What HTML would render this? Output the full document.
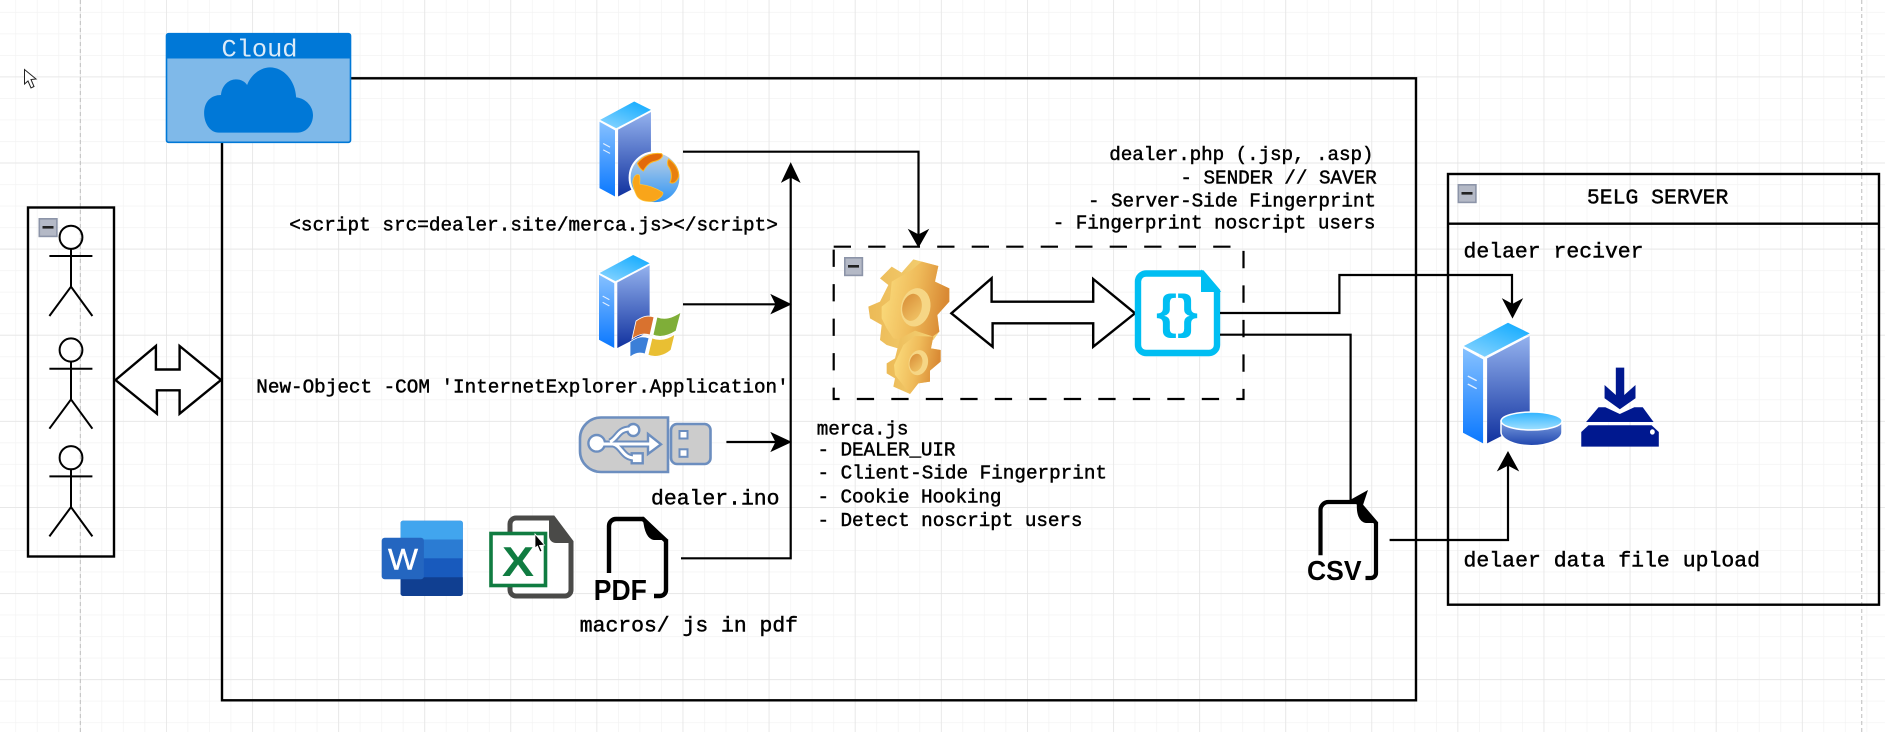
<!DOCTYPE html>
<html><head><meta charset="utf-8"><style>
html,body{margin:0;padding:0;background:#fff;width:1885px;height:732px;overflow:hidden}
svg{display:block}
.m{font-family:"Liberation Mono",monospace;font-size:19.3px;fill:#000;stroke:#000;stroke-width:.45px;white-space:pre}
.l{font-size:21.4px}
.b{fill:none;stroke:#000;stroke-width:2.4}
.t{fill:none;stroke:#000;stroke-width:2.2}
</style></head><body>
<svg width="1885" height="732" viewBox="0 0 1885 732" xmlns="http://www.w3.org/2000/svg">
<defs>
<pattern id="gm" x="79.9" y="76.5" width="21.525" height="21.525" patternUnits="userSpaceOnUse"><path d="M0 0H21.525M0 0V21.525" fill="none" stroke="#f3f3f3" stroke-width="1.4"/></pattern>
<pattern id="gM" x="79.9" y="76.5" width="86.1" height="86.1" patternUnits="userSpaceOnUse"><path d="M0 0H86.1M0 0V86.1" fill="none" stroke="#e3e3e3" stroke-width="1.4"/></pattern>
<linearGradient id="st" x1="0" y1="1" x2="0.7" y2="0"><stop offset="0" stop-color="#8ed6ff"/><stop offset="1" stop-color="#1aaeff"/></linearGradient>
<linearGradient id="sl" x1="0" y1="0" x2="0" y2="1"><stop offset="0" stop-color="#86c1ff"/><stop offset="1" stop-color="#0a78ff"/></linearGradient>
<linearGradient id="sr" x1="0" y1="0" x2="0" y2="1"><stop offset="0" stop-color="#94b2ee"/><stop offset="1" stop-color="#11329f"/></linearGradient>
<linearGradient id="dt" x1="0" y1="0" x2="0" y2="1"><stop offset="0" stop-color="#2fb3ff"/><stop offset="1" stop-color="#a0e0ff"/></linearGradient>
<linearGradient id="dr" x1="0" y1="0" x2="0" y2="1"><stop offset="0" stop-color="#7b9de0"/><stop offset="1" stop-color="#1f45ad"/></linearGradient>
<linearGradient id="g1" x1="0" y1="0" x2="1" y2="0.2"><stop offset="0" stop-color="#fcdf80"/><stop offset=".55" stop-color="#efbb5a"/><stop offset="1" stop-color="#d98a34"/></linearGradient>
<linearGradient id="g2" x1="0" y1="0" x2="1" y2="0"><stop offset="0" stop-color="#ecba56"/><stop offset="1" stop-color="#f5d57a"/></linearGradient>
<linearGradient id="gh" x1="0" y1="0" x2="1" y2="1"><stop offset="0" stop-color="#d78c36"/><stop offset="1" stop-color="#f3c869"/></linearGradient>
<linearGradient id="gl" x1="0" y1="0" x2="0" y2="1"><stop offset="0" stop-color="#c2d3e4"/><stop offset="1" stop-color="#2d94f5"/></linearGradient>
<g id="srv">
<path d="M112 0 L166 32 L54 102 L2 70Z" fill="url(#st)"/>
<path d="M0 77 L50 110 L50 362 L0 330Z" fill="url(#sl)"/>
<path d="M60 107 L166 40 L166 297 L60 362Z" fill="url(#sr)"/>
<path d="M12 160 L34 174M12 184 L34 198" stroke="#e4f0ff" stroke-width="4"/>
</g>
<g id="minus"><rect x=".8" y=".8" width="17.6" height="17.6" fill="#b4b9c6" stroke="#8c94a8" stroke-width="1.6"/><rect x="4" y="8" width="11" height="2.6" fill="#222"/></g>
</defs>

<rect width="1885" height="732" fill="#fff"/>
<rect width="1885" height="732" fill="url(#gm)"/>
<rect width="1885" height="732" fill="url(#gM)"/>
<path d="M80.4 0V732M1861.7 0V732" stroke="#c8c8c8" stroke-width="1.2" stroke-dasharray="4 3" fill="none"/>

<!-- big frame -->
<rect x="222" y="78.3" width="1194" height="622" class="b"/>

<!-- cloud -->
<rect x="166.5" y="33.7" width="184" height="108.6" rx="2" fill="#7fb9e9" stroke="#0078d7" stroke-width="1.6"/>
<path d="M166 58.5V35.5a2 2 0 0 1 2-2H349a2 2 0 0 1 2 2V58.5Z" fill="#0078d7"/>
<text x="221.5" y="56.5" font-family="Liberation Mono,monospace" font-size="25" fill="#dcebf8" textLength="76" lengthAdjust="spacingAndGlyphs">Cloud</text>
<g transform="scale(.4018 .3333)"><path d="M545 398 C520 398 508 365 508 340 C508 305 525 285 550 285 C552 255 570 238 587 238 C600 238 610 245 615 255 C625 222 650 202 672 202 C705 202 735 240 737 292 C762 295 779 320 779 345 C779 375 762 398 740 398Z" fill="#0078d7"/></g>

<!-- cursor -->
<path d="M24.5 69.5V84L28 81L31 88L34 86.5L31 79.5L36 79Z" fill="#fff" stroke="#222" stroke-width="1"/>

<!-- actors -->
<rect x="28" y="207.5" width="86" height="349" class="b"/>
<use href="#minus" x="38.5" y="218"/>
<g fill="none" stroke="#000" stroke-width="2">
<g id="act"><ellipse cx="71" cy="237.3" rx="11.4" ry="11.6"/><path d="M71 249V286.7M49.4 256H92.4M49.4 316L71 286.7L92.4 316"/></g>
<use href="#act" y="112.7"/><use href="#act" y="220.4"/>
</g>

<!-- left double arrow -->
<path d="M115.5 380 L155.9 346 V369.5 H179.6 V346 L221 380 L179.6 413.7 V390.3 H156.9 V413.7Z" fill="#fff" stroke="#000" stroke-width="2.4"/>

<!-- servers -->
<use href="#srv" transform="translate(599.5 101.5) scale(.31 .2625)"/>
<use href="#srv" transform="translate(599 255) scale(.305 .257)"/>
<!-- globe -->
<circle cx="655" cy="177.7" r="25.4" fill="url(#gl)" stroke="#fff" stroke-width="2"/>
<g transform="translate(590 95) scale(.3333)">
<path d="M142 205C160 180 190 172 215 176C222 184 212 196 190 200C175 205 168 215 160 228C150 222 146 215 142 205Z" fill="#e2690a" stroke="#ffb820" stroke-width="3"/>
<path d="M236 192C255 205 268 225 266 245C260 262 248 268 240 262C248 245 244 225 234 212C232 205 232 198 236 192Z" fill="#e8800f" stroke="#ffb820" stroke-width="3"/>
<path d="M128 262C130 245 138 235 148 240C152 250 148 260 150 268C170 270 196 278 218 292C222 298 210 312 192 318C172 322 152 318 142 305C134 292 130 278 128 262Z" fill="#f9a51a" stroke="#ffc63a" stroke-width="2"/>
</g>
<!-- windows -->
<g stroke="#fff" stroke-width=".8">
<path d="M636 321 C643 316 648 315 654 317 L650 335 C644 333 639 334 632 339Z" fill="#d9722f"/>
<path d="M657 317 C665 320 672 318 681 312 L676 331 C668 336 660 338 653 335Z" fill="#7fae38"/>
<path d="M630 342 C638 336 643 336 649 338 L645 354 C640 352 635 353 630 357Z" fill="#3b7fd8"/>
<path d="M652 338 C660 341 668 339 675 334 L671 350 C664 356 655 358 648 355Z" fill="#e9bf33"/>
</g>

<!-- USB -->
<g stroke="#6c8ebf" stroke-width="2.6">
<path d="M668 417.5H601a21 21 0 0 0-21 21V451a21 21 0 0 0 21 21H668Z" fill="#ccc"/>
<rect x="671" y="424" width="39.5" height="40" rx="6" fill="#ccc"/>
<rect x="679.5" y="431" width="8" height="7.5" fill="#fff" stroke-width="2"/>
<rect x="679.5" y="449.3" width="8" height="7.5" fill="#fff" stroke-width="2"/>
<path d="M602 444H650M610 442C618 438 618 429 630 429M613 444C622 446 622 458 635 458" fill="none" stroke-width="7"/>
<circle cx="596.7" cy="443.3" r="8.3" fill="#fff" stroke-width="2.4"/>
<circle cx="633.3" cy="430" r="6" fill="#fff" stroke-width="2.4"/>
<rect x="631.7" y="453.3" width="11" height="10" fill="#fff" stroke-width="2.4"/>
<path d="M648 434L661 444.3L648 454Z" fill="#fff" stroke-width="2.4"/>
<path d="M602 444H650M610 442C618 438 618 429 630 429M613 444C622 446 622 458 635 458" fill="none" stroke="#fff" stroke-width="3"/>
</g>

<!-- Word -->
<rect x="400.6" y="520.7" width="62.2" height="75.3" rx="2.5" fill="#185abd"/>
<path d="M400.6 539.5V523.2a2.5 2.5 0 0 1 2.5-2.5H460.3a2.5 2.5 0 0 1 2.5 2.5V539.5Z" fill="#41a5ee"/>
<rect x="400.6" y="539.5" width="62.2" height="18.8" fill="#2b7cd3"/>
<path d="M400.6 577.2H462.8V593.5a2.5 2.5 0 0 1-2.5 2.5H403.1a2.5 2.5 0 0 1-2.5-2.5Z" fill="#103f91"/>
<rect x="381.7" y="537.7" width="42.2" height="41.6" rx="3" fill="#2466c0"/>
<text x="403" y="569.5" text-anchor="middle" font-family="Liberation Sans,sans-serif" font-size="30" fill="#fff" stroke="#fff" stroke-width=".4" textLength="30" lengthAdjust="spacingAndGlyphs">W</text>

<!-- Excel -->
<path d="M553 518H516a6 6 0 0 0-6 6V590a6 6 0 0 0 6 6H565a6 6 0 0 0 6-6V542Z" fill="#fff" stroke="#4a4a48" stroke-width="5"/>
<path d="M550 518L571 542H556a6 6 0 0 1-6-6Z" fill="#4a4a48" stroke="#4a4a48" stroke-width="2"/>
<rect x="491" y="533.5" width="54.5" height="52" fill="#fff" stroke="#107c41" stroke-width="3.6"/>
<text x="518" y="576" text-anchor="middle" font-family="Liberation Sans,sans-serif" font-weight="bold" font-size="42" fill="#107c41" textLength="32" lengthAdjust="spacingAndGlyphs">X</text>
<path d="M535 534V548L537.5 546L540 552L542 551L539.5 545.5L544.5 545Z" fill="#000" stroke="#fff" stroke-width=".8"/>

<!-- PDF -->
<path d="M609 573V526a7 7 0 0 1 7-7H643L666 541V590a6 6 0 0 1-6 6H654" fill="none" stroke="#000" stroke-width="4.4"/>
<path d="M644 519C645 530 648 538 654 539H666Z" fill="#000" stroke="#000" stroke-width="2"/>
<text x="593.8" y="600" font-family="Liberation Sans,sans-serif" font-weight="bold" font-size="29" fill="#000" textLength="53" lengthAdjust="spacingAndGlyphs">PDF</text>

<!-- merge arrows -->
<path d="M683 151.7H918.5V235" class="t"/>
<path d="M918.5 246.7L909 230L918.5 235L928 230Z" fill="#000" stroke="#000"/>
<path d="M790.7 175V558.3H681" class="t"/>
<path d="M790.7 163.3L782 181.7L790.7 177L799.5 181.7Z" fill="#000" stroke="#000"/>
<path d="M683 304.3H782" class="t"/>
<path d="M790.7 304.3L771.4 295L776 304.3L771.4 313.3Z" fill="#000" stroke="#000"/>
<path d="M726.4 442H782" class="t"/>
<path d="M790.7 442L771.4 433L776 442L771.4 451Z" fill="#000" stroke="#000"/>

<!-- dashed box -->
<rect x="833.7" y="246.7" width="409.8" height="152.3" fill="none" stroke="#000" stroke-width="2.2" stroke-dasharray="17.3 17.2"/>
<use href="#minus" x="844" y="257"/>

<!-- gear -->
<g transform="translate(850 250) scale(.3333)">
<path d="M90 85L125 50L155 68L190 28L265 48L255 95L298 115L298 155L262 195L268 245L250 270L160 300L110 285L90 270L95 225L60 205L55 170L90 155L115 105Z" fill="url(#g2)"/>
<path d="M125 95L185 60L215 35L265 48L255 95L298 115L298 155L262 195L268 245L220 280L130 265L110 235L95 205L95 170L120 150Z" fill="url(#g1)"/>
<ellipse cx="197" cy="172" rx="44" ry="58" transform="rotate(12 197 172)" fill="#f6d685"/>
<ellipse cx="186" cy="172" rx="29" ry="41" transform="rotate(12 186 172)" fill="url(#gh)"/>
<path d="M110 340L135 325L150 265L195 242L250 260L243 295L272 300L272 335L240 362L240 395L205 400L180 432L130 410L135 385L110 370Z" fill="url(#g2)"/>
<path d="M132 345L160 285L195 258L250 260L243 295L272 300L272 335L240 362L240 395L205 400L180 432L155 400L135 375Z" fill="url(#g1)"/>
<ellipse cx="205" cy="338" rx="29" ry="38" transform="rotate(12 205 338)" fill="#f6d685"/>
<ellipse cx="198" cy="338" rx="19" ry="27" transform="rotate(12 198 338)" fill="url(#gh)"/>
</g>

<!-- inner double arrow -->
<path d="M951.4 313.3 L991.6 278.3 V301.7 H1093.2 V279 L1135 313.3 L1093.2 346.7 V323.3 H992.6 V346.7Z" fill="#fff" stroke="#000" stroke-width="2.4"/>

<!-- JSON file -->
<path d="M1202 273.5H1146a8 8 0 0 0-8 8V345a8 8 0 0 0 8 8H1209a8 8 0 0 0 8-8V291Z" fill="#fff" stroke="#00bef2" stroke-width="6.4"/>
<path d="M1202 272L1219 291H1202Z" fill="#00bef2" stroke="#00bef2" stroke-width="2"/>
<text x="1177" y="328" text-anchor="middle" font-family="Liberation Sans,sans-serif" font-weight="bold" font-size="47" fill="#00bef2" textLength="42" lengthAdjust="spacingAndGlyphs">{}</text>

<!-- right connectors -->
<path d="M1220 313H1339.4V275H1512V306" class="t"/>
<path d="M1512.5 317.5L1503 299.3L1512.5 304.5L1522 299.3Z" fill="#000" stroke="#000"/>
<path d="M1220 334.7H1350.6V500" class="t"/>
<path d="M1389.6 540H1508V463" class="t"/>
<path d="M1508 452L1498 470.3L1508 465L1518 470.3Z" fill="#000" stroke="#000"/>

<!-- CSV file -->
<path d="M1320.5 555.3V510a8 8 0 0 1 8-8H1358L1376 523V573a5 5 0 0 1-5 5H1365.5" fill="none" stroke="#000" stroke-width="4.2"/>
<path d="M1358 502C1357 514 1360 521 1366 522H1376Z" fill="#000" stroke="#000" stroke-width="2"/>
<path d="M1350 500L1368 490L1362 508Z" fill="#000"/>
<text x="1307" y="580" font-family="Liberation Sans,sans-serif" font-weight="bold" font-size="28" fill="#000" textLength="54.5" lengthAdjust="spacingAndGlyphs">CSV</text>

<!-- 5ELG -->
<rect x="1448" y="174" width="431" height="430.7" class="b"/>
<path d="M1448 223.7H1879" class="b"/>
<use href="#minus" x="1457.5" y="184"/>
<use href="#srv" transform="translate(1463 322.7) scale(.4018 .3333)"/>
<path d="M1501 421V432A30.5 13.7 0 0 0 1562 432V421Z" fill="url(#dr)" stroke="#fff" stroke-width="1.5"/>
<ellipse cx="1531.6" cy="421" rx="30.5" ry="9" fill="url(#dt)" stroke="#fff" stroke-width="1.5"/>
<g transform="translate(1255 100) scale(.4018 .3333)" fill="#00188f">
<path d="M898 803H919V885L947 855V895L908 928L870 895V855L898 885Z"/>
<path d="M855 922H872L908 942L944 922H965L992 966H824Z"/>
<path d="M830 976H987L1005 996V1040H812V996Z"/>
<ellipse cx="989" cy="996" rx="6" ry="8" fill="#fff"/>
</g>

<!-- labels -->
<text class="m" x="289.3" y="230.7" textLength="488.6">&lt;script src=dealer.site/merca.js&gt;&lt;/script&gt;</text>
<text class="m" x="256.3" y="392.7" textLength="532.4">New-Object -COM 'InternetExplorer.Application'</text>
<text class="m l" x="651" y="504.3" textLength="128.5">dealer.ino</text>
<text class="m l" x="579.8" y="631.7" textLength="218.2">macros/ js in pdf</text>
<text class="m" x="816.8" y="434.3" textLength="91.6">merca.js</text>
<text class="m" x="817.5" y="455.3" textLength="138">- DEALER_UIR</text>
<text class="m" x="817.5" y="478.7" textLength="289.5">- Client-Side Fingerprint</text>
<text class="m" x="817.5" y="502.7" textLength="184">- Cookie Hooking</text>
<text class="m" x="817.5" y="526" textLength="265">- Detect noscript users</text>
<text class="m" x="1109.3" y="160" textLength="264.2">dealer.php (.jsp, .asp)</text>
<text class="m" x="1180.4" y="183.3" textLength="196.3">- SENDER // SAVER</text>
<text class="m" x="1088" y="206.7" textLength="288">- Server-Side Fingerprint</text>
<text class="m" x="1052.7" y="228.3" textLength="322.8">- Fingerprint noscript users</text>
<text class="m l" x="1586.9" y="203.3" textLength="141.4">5ELG SERVER</text>
<text class="m l" x="1463.5" y="257.3" textLength="180">delaer reciver</text>
<text class="m l" x="1463.5" y="566.7" textLength="296.5">delaer data file upload</text>
</svg>
</body></html>
